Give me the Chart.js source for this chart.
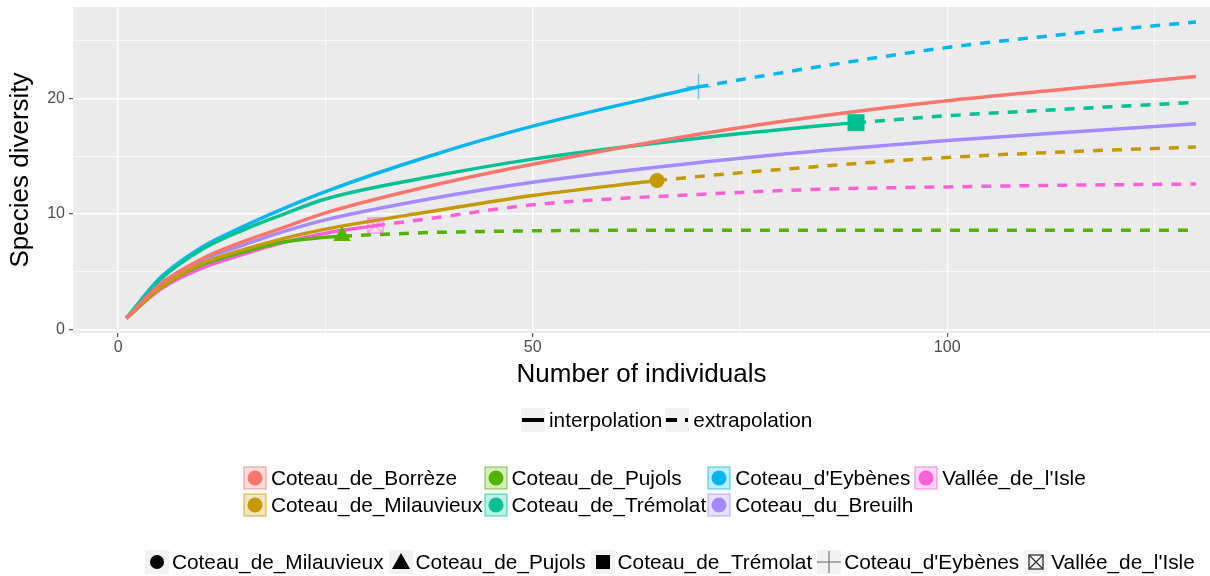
<!DOCTYPE html>
<html>
<head>
<meta charset="utf-8">
<script src="https://cdn.jsdelivr.net/npm/chart.js@4.4.1/dist/chart.umd.min.js"></script>
<style>
  body { margin: 0; background: #fff; font-family: "Liberation Sans", Arial, sans-serif; }
  #wrap { position: relative; width: 1210px; height: 576px; overflow: hidden; }
  #chart { position: absolute; left: 0; top: 0; }
  .lg { position: absolute; font-size: 20.8px; color: #000; white-space: nowrap; }
  .row { display: flex; align-items: center; height: 24px; }
  .row svg { flex: none; display: block; }
  .row span { line-height: 24px; }
  #lgType { left: 521px; top: 408px; }
  #lgSite { left: 243px; top: 466px; display: grid; grid-template-columns: auto auto auto auto; column-gap: 1px; row-gap: 3px; }
  #lgShape { left: 145px; top: 550px; }
</style>
</head>
<body>
<div id="wrap">
  <canvas id="chart" width="1210" height="576"></canvas>
  <div id="lgType" class="lg row"></div>
  <div id="lgSite" class="lg"></div>
  <div id="lgShape" class="lg row"></div>
</div>
<script>
const siteNames = ["Coteau_de_Borrèze", "Coteau_de_Milauvieux", "Coteau_de_Pujols", "Coteau_de_Trémolat", "Coteau_d'Eybènes", "Coteau_du_Breuilh", "Vallée_de_l'Isle"];
const siteColors = ["#F8766D", "#C49A00", "#53B400", "#00C094", "#00B6EB", "#A58AFF", "#FB61D7"];

// interpolated curves (number of individuals -> species)
const borrezeX = [1, 5, 10, 15, 20, 25, 37.5, 50, 70, 85, 100, 115, 130];
const borrezeY = [1, 3.9, 6.1, 7.6, 8.85, 10.1, 12.4, 14.3, 16.9, 18.5, 19.8, 20.85, 21.9];
const milauvieuxX = [1, 5, 10, 15, 20, 25, 37.5, 50, 65];
const milauvieuxY = [1, 3.6, 5.7, 6.9, 7.9, 8.7, 10.2, 11.6, 12.9];
const pujolsX = [1, 5, 10, 15, 20, 25, 27];
const pujolsY = [1, 3.55, 5.6, 6.7, 7.6, 8.0, 8.1];
const tremolatX = [1, 5, 10, 15, 20, 25, 37.5, 50, 70, 85, 89];
const tremolatY = [1, 4.3, 6.9, 8.6, 10.0, 11.3, 13.2, 14.75, 16.55, 17.65, 17.9];
const eybenesX = [1, 5, 10, 15, 20, 25, 37.5, 50, 70];
const eybenesY = [1, 4.45, 7.1, 8.9, 10.5, 11.95, 15.0, 17.6, 21.0];
const breuilhX = [1, 5, 10, 15, 20, 25, 37.5, 50, 70, 85, 100, 115, 130];
const breuilhY = [1, 3.9, 6.0, 7.3, 8.5, 9.5, 11.3, 12.75, 14.45, 15.5, 16.35, 17.1, 17.8];
const isleX = [1, 5, 10, 15, 20, 25, 31];
const isleY = [1, 3.45, 5.3, 6.5, 7.55, 8.35, 9.0];

// extrapolated curves
const milauvieuxExtX = [65, 70, 85, 100, 115, 130];
const milauvieuxExtY = [12.9, 13.25, 14.15, 14.9, 15.4, 15.8];
const pujolsExtX = [27, 37.5, 50, 70, 100, 130];
const pujolsExtY = [8.1, 8.4, 8.55, 8.6, 8.6, 8.6];
const tremolatExtX = [89, 100, 115, 130];
const tremolatExtY = [17.9, 18.5, 19.1, 19.65];
const eybenesExtX = [70, 85, 100, 115, 130];
const eybenesExtY = [21.0, 22.8, 24.4, 25.6, 26.6];
const isleExtX = [31, 37.5, 50, 70, 85, 100, 115, 130];
const isleExtY = [9.0, 9.6, 10.8, 11.7, 12.15, 12.35, 12.5, 12.6];

// observed reference samples (marker shapes)
const refSites = ["Coteau_de_Milauvieux", "Coteau_de_Pujols", "Coteau_de_Trémolat", "Coteau_d'Eybènes", "Vallée_de_l'Isle"];
const refN = [65, 27, 89, 70, 31];
const refS = [12.9, 8.1, 17.9, 21.0, 9.0];

const xTicks = [0, 25, 50, 75, 100, 125];
const xLabels = [0, 50, 100];
const yTicks = [0, 5, 10, 15, 20, 25];
const yLabels = [0, 10, 20];

function pts(xs, ys) {
  return xs.map((x, i) => ({ x: x, y: ys[i] }));
}

function colorOf(name) {
  return siteColors[siteNames.indexOf(name)];
}

function hexA(hex, a) {
  const r = parseInt(hex.slice(1, 3), 16), g = parseInt(hex.slice(3, 5), 16), b = parseInt(hex.slice(5, 7), 16);
  return "rgba(" + r + "," + g + "," + b + "," + a + ")";
}

// boxed-X marker for Vallée_de_l'Isle
function boxX(color, size) {
  const c = document.createElement("canvas");
  c.width = size; c.height = size;
  const g = c.getContext("2d");
  g.strokeStyle = color;
  g.lineWidth = 1.5;
  g.strokeRect(1, 1, size - 2, size - 2);
  g.beginPath();
  g.moveTo(1, 1); g.lineTo(size - 1, size - 1);
  g.moveTo(size - 1, 1); g.lineTo(1, size - 1);
  g.stroke();
  return c;
}

const curves = [
  ["Coteau_de_Borrèze", borrezeX, borrezeY, false],
  ["Coteau_de_Milauvieux", milauvieuxX, milauvieuxY, false],
  ["Coteau_de_Pujols", pujolsX, pujolsY, false],
  ["Coteau_de_Trémolat", tremolatX, tremolatY, false],
  ["Coteau_d'Eybènes", eybenesX, eybenesY, false],
  ["Coteau_du_Breuilh", breuilhX, breuilhY, false],
  ["Vallée_de_l'Isle", isleX, isleY, false],
  ["Coteau_de_Milauvieux", milauvieuxExtX, milauvieuxExtY, true],
  ["Coteau_de_Pujols", pujolsExtX, pujolsExtY, true],
  ["Coteau_de_Trémolat", tremolatExtX, tremolatExtY, true],
  ["Coteau_d'Eybènes", eybenesExtX, eybenesExtY, true],
  ["Vallée_de_l'Isle", isleExtX, isleExtY, true]
];

const markerStyle = {
  "Coteau_de_Milauvieux": { style: "circle", r: 7.5, bw: 0 },
  "Coteau_de_Pujols": { style: "triangle", r: 10, bw: 0 },
  "Coteau_de_Trémolat": { style: "rect", r: 12, bw: 0 },
  "Coteau_d'Eybènes": { style: "cross", r: 12.5, bw: 1.5 },
  "Vallée_de_l'Isle": { style: boxX(hexA("#FB61D7", 0.6), 17), r: 9, bw: 0 }
};

const datasets = [];
curves.forEach(c => {
  const col = colorOf(c[0]);
  datasets.push({
    label: c[0],
    data: pts(c[1], c[2]),
    borderColor: col,
    borderWidth: 3.5,
    borderDash: c[3] ? [10, 9] : [],
    borderCapStyle: "butt",
    cubicInterpolationMode: "monotone",
    pointRadius: 0,
    fill: false,
    order: 1
  });
});
refSites.forEach((s, i) => {
  const col = colorOf(s);
  const m = markerStyle[s];
  datasets.push({
    label: s + " ref",
    data: [{ x: refN[i], y: refS[i] }],
    showLine: false,
    pointStyle: m.style,
    pointRadius: m.r,
    pointBackgroundColor: col,
    pointBorderColor: s === "Coteau_d'Eybènes" ? hexA(col, 0.6) : col,
    pointBorderWidth: m.bw,
    order: 0
  });
});

const panelBg = {
  id: "panelBg",
  beforeDraw(chart) {
    const a = chart.chartArea, ctx = chart.ctx;
    ctx.save();
    ctx.fillStyle = "#EBEBEB";
    ctx.fillRect(a.left, a.top, a.right - a.left, a.bottom - a.top);
    ctx.restore();
  }
};

// keep chartArea exactly where ggplot's panel sits
function noPad(s) {
  s.paddingTop = 0; s.paddingBottom = 0; s.paddingLeft = 0; s.paddingRight = 0;
}

new Chart(document.getElementById("chart"), {
  type: "line",
  data: { datasets: datasets },
  plugins: [panelBg],
  options: {
    responsive: false,
    animation: false,
    devicePixelRatio: 1,
    layout: { autoPadding: false, padding: { top: 7, right: 0, bottom: 186, left: 0 } },
    plugins: { legend: { display: false }, tooltip: { enabled: false } },
    scales: {
      x: {
        type: "linear",
        min: -5.45,
        max: 131.7,
        afterFit: s => { s.height = 57; noPad(s); },
        afterBuildTicks: s => { s.ticks = xTicks.map(v => ({ value: v })); },
        border: { display: false },
        grid: {
          color: "#FFFFFF",
          lineWidth: c => xLabels.includes(c.tick.value) ? 1.4 : 0.7,
          tickColor: c => xLabels.includes(c.tick.value) ? "#333333" : "rgba(0,0,0,0)",
          tickLength: 4,
          tickWidth: 1
        },
        ticks: {
          autoSkip: false,
          maxRotation: 0,
          padding: 1,
          color: "#4D4D4D",
          font: { family: "Liberation Sans", size: 16 },
          callback: v => xLabels.includes(v) ? String(v) : ""
        },
        title: {
          display: true,
          text: "Number of individuals",
          color: "#000",
          font: { family: "Liberation Sans", size: 26 },
          padding: { top: 0, bottom: 0 }
        }
      },
      y: {
        type: "linear",
        min: -0.28,
        max: 27.9,
        afterFit: s => { s.width = 73; noPad(s); },
        afterBuildTicks: s => { s.ticks = yTicks.map(v => ({ value: v })); },
        border: { display: false },
        grid: {
          color: "#FFFFFF",
          lineWidth: c => yLabels.includes(c.tick.value) ? 1.4 : 0.7,
          tickColor: c => yLabels.includes(c.tick.value) ? "#333333" : "rgba(0,0,0,0)",
          tickLength: 4,
          tickWidth: 1
        },
        ticks: {
          autoSkip: false,
          padding: 4,
          color: "#4D4D4D",
          font: { family: "Liberation Sans", size: 16 },
          callback: v => yLabels.includes(v) ? String(v) : ""
        },
        title: {
          display: true,
          text: "Species diversity",
          color: "#000",
          font: { family: "Liberation Sans", size: 26 },
          padding: { top: 5, bottom: 0 }
        }
      }
    }
  }
});

// ---- legends (html) ----
function keySvg(inner, bg) {
  return '<svg width="24" height="24" viewBox="0 0 24 24"><rect x="0" y="0" width="24" height="24" fill="' + bg + '"/>' + inner + '</svg>';
}

const lgType = document.getElementById("lgType");
lgType.innerHTML =
  keySvg('<line x1="1" y1="12" x2="23" y2="12" stroke="#000" stroke-width="4"/>', "#F2F2F2") +
  '<span style="margin:0 3px 0 4px">interpolation</span>' +
  keySvg('<line x1="1" y1="12" x2="12" y2="12" stroke="#000" stroke-width="4"/><line x1="20" y1="12" x2="23" y2="12" stroke="#000" stroke-width="4"/>', "#F2F2F2") +
  '<span style="margin-left:4px">extrapolation</span>';

const lgSite = document.getElementById("lgSite");
const siteOrder = [0, 2, 4, 6, 1, 3, 5];
let html = "";
siteOrder.forEach(i => {
  const col = siteColors[i];
  const key = '<svg width="24" height="24" viewBox="0 0 24 24"><rect x="1" y="1" width="22" height="22" fill="' + hexA(col, 0.25) +
    '" stroke="' + hexA(col, 0.5) + '" stroke-width="1.5"/><circle cx="12" cy="12" r="7.5" fill="' + col + '"/></svg>';
  html += '<div class="row">' + key + '<span style="margin-left:4px">' + siteNames[i] + '</span></div>';
});
lgSite.innerHTML = html;

const shapeKeys = {
  "Coteau_de_Milauvieux": '<circle cx="12" cy="12" r="7" fill="#000"/>',
  "Coteau_de_Pujols": '<polygon points="12,3 21,19 3,19" fill="#000"/>',
  "Coteau_de_Trémolat": '<rect x="5" y="5" width="14" height="14" fill="#000"/>',
  "Coteau_d'Eybènes": '<line x1="0" y1="12" x2="24" y2="12" stroke="#777" stroke-width="1.2"/><line x1="12" y1="1" x2="12" y2="23" stroke="#777" stroke-width="1.2"/>',
  "Vallée_de_l'Isle": '<rect x="5" y="5" width="14" height="14" fill="none" stroke="#333" stroke-width="1.3"/><line x1="5" y1="5" x2="19" y2="19" stroke="#333" stroke-width="1.3"/><line x1="19" y1="5" x2="5" y2="19" stroke="#333" stroke-width="1.3"/>'
};
const lgShape = document.getElementById("lgShape");
let sh = "";
refSites.forEach((s, i) => {
  sh += keySvg(shapeKeys[s], "#F2F2F2") + '<span style="margin:0 ' + (i < refSites.length - 1 ? 5 : 0) + 'px 0 3px">' + s + '</span>';
});
lgShape.innerHTML = sh;
</script>
</body>
</html>
